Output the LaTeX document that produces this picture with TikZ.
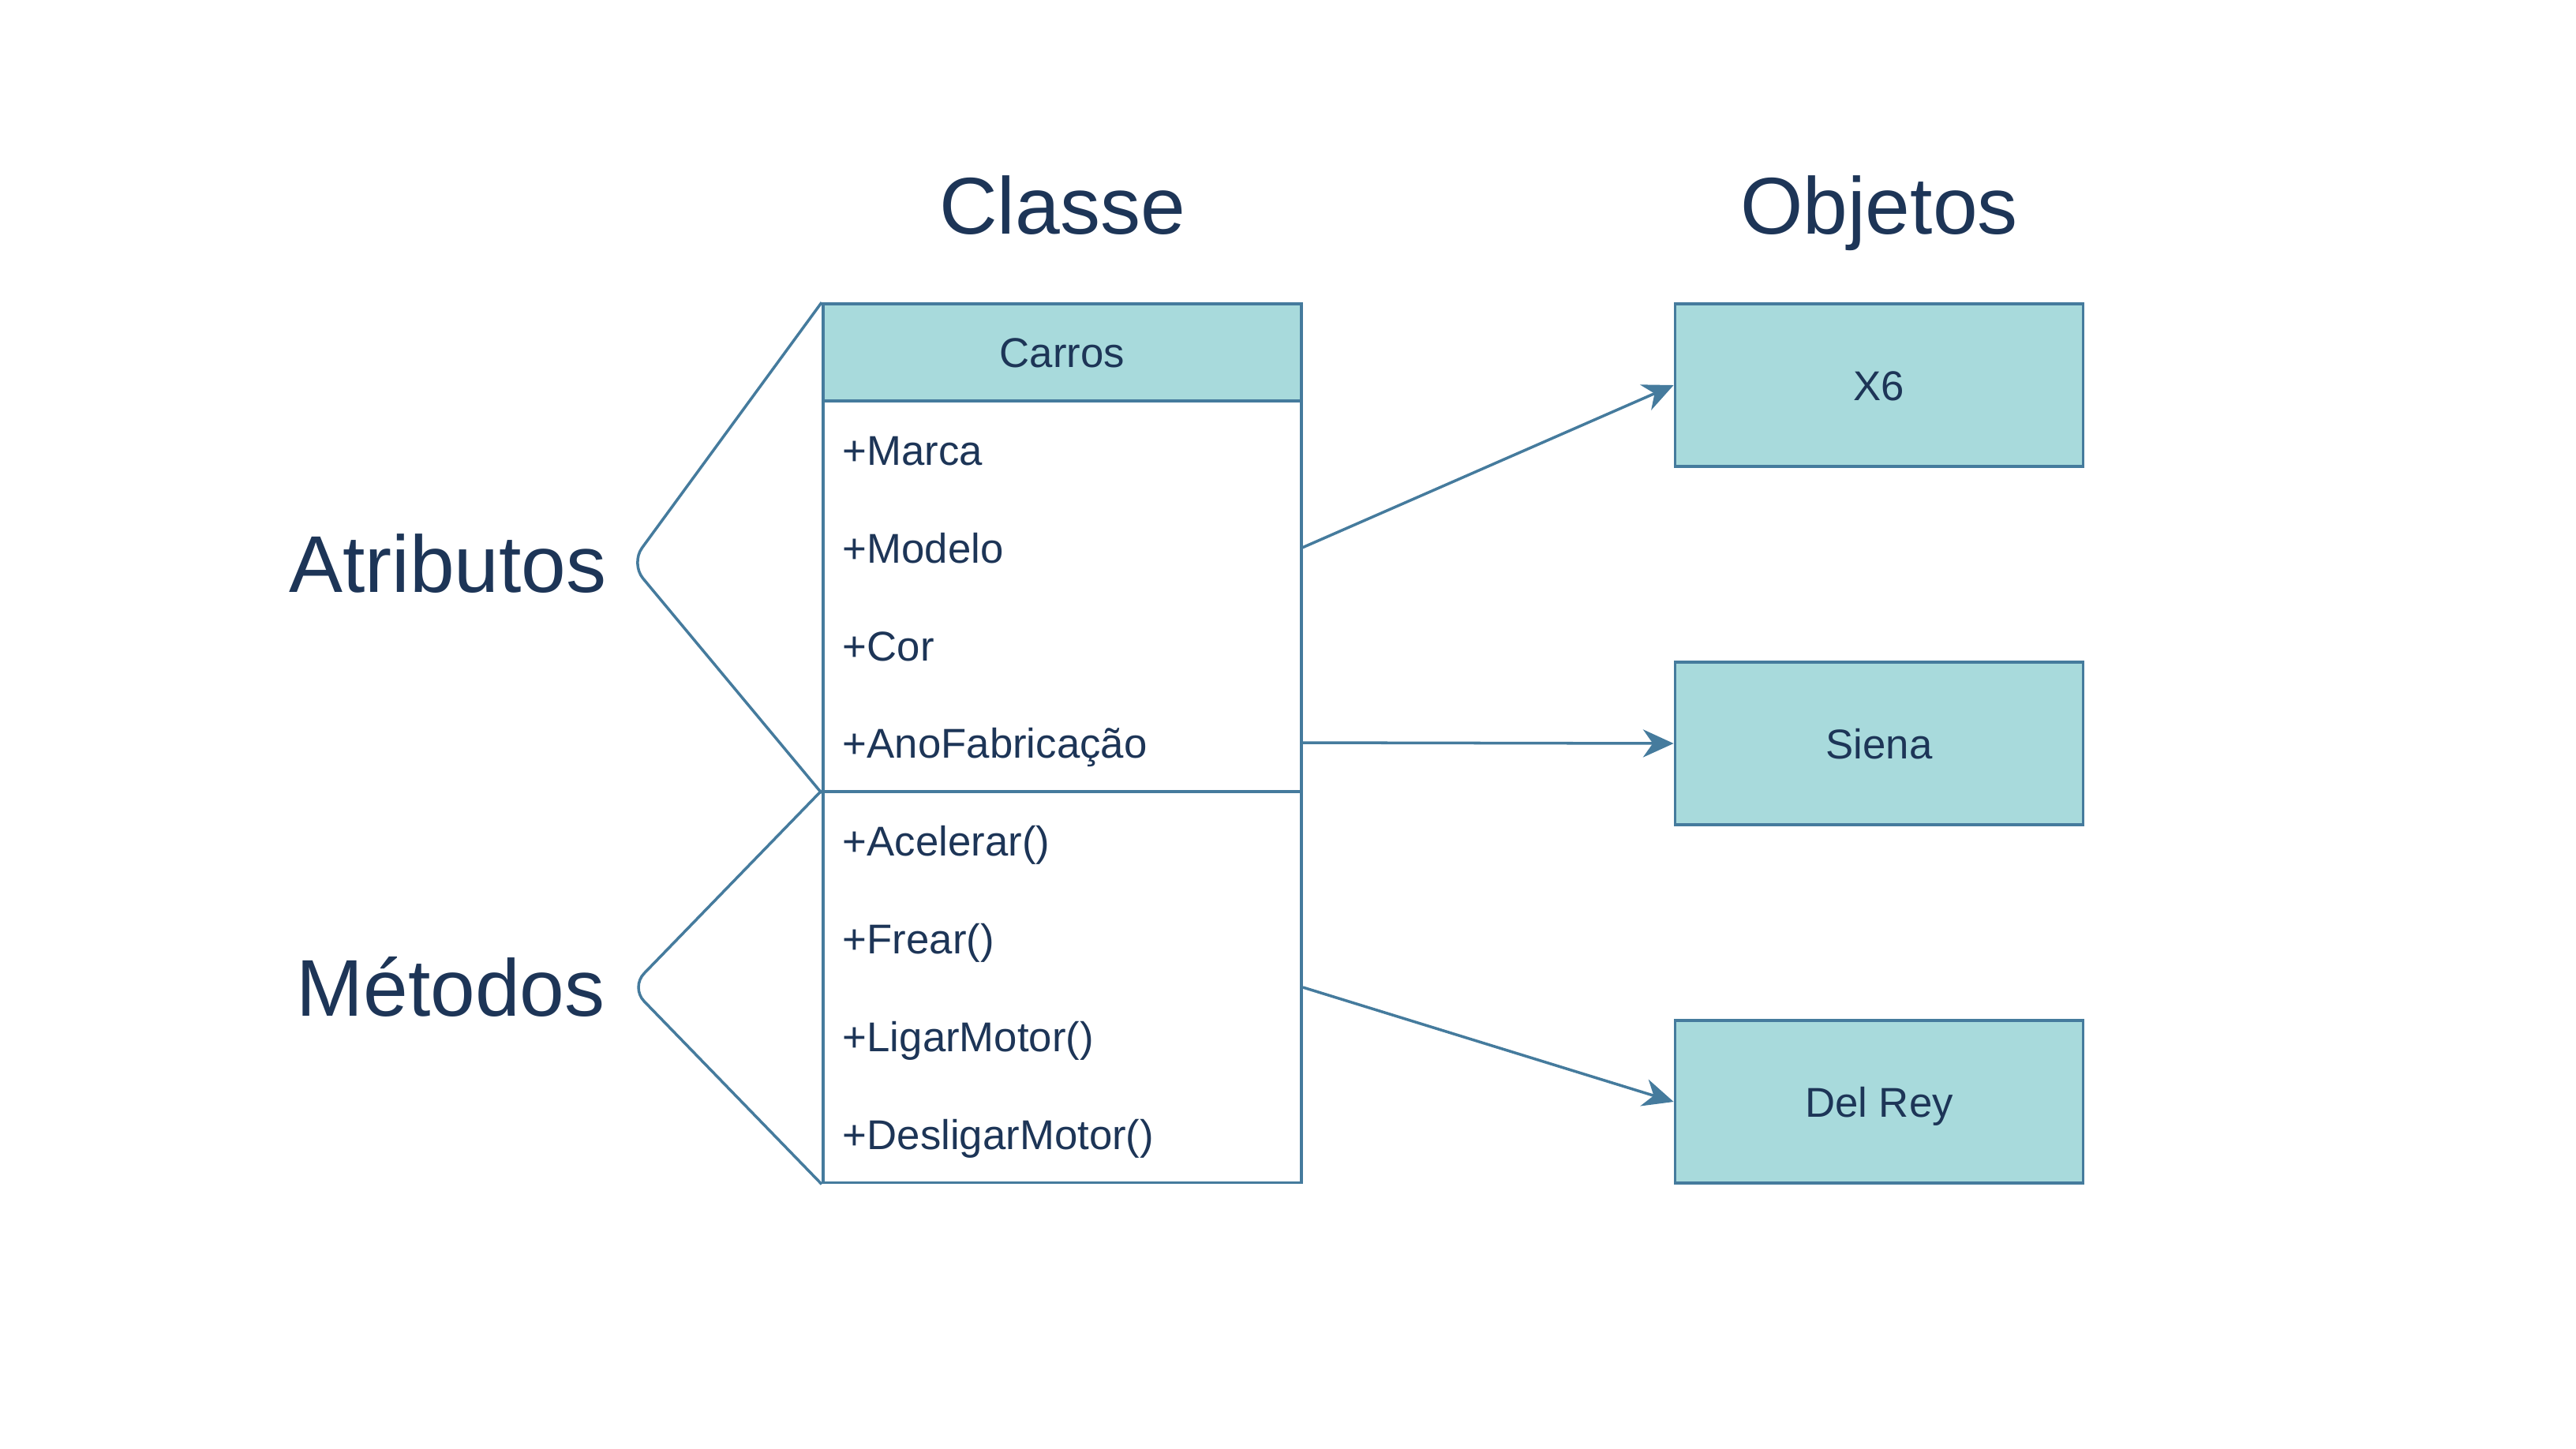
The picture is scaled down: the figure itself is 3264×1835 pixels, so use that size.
\documentclass[tikz,border=0pt]{standalone}
\usepackage{fontspec}
\setmainfont{Liberation Sans}
\usetikzlibrary{positioning,arrows.meta}
\definecolor{carteal}{HTML}{A8DADC}
\definecolor{carblue}{HTML}{457B9D}
\definecolor{carnavy}{HTML}{1D3557}

\tikzset{
  smalltext/.style={text=carnavy, font=\fontsize{15}{18}\selectfont, text height=10.8pt, text depth=0pt},
  bigtext/.style={text=carnavy, font=\fontsize{29}{35}\selectfont, text height=20.9pt, text depth=0pt},
  umlhead/.style={smalltext, draw=carblue, fill=carteal, line width=1pt, minimum width=6.06cm, minimum height=1.23cm},
  umlpart/.style={draw=carblue, line width=1pt, minimum width=6.06cm, minimum height=4.95cm},
  umlrow/.style={smalltext, text width=5.56cm, inner xsep=0.25cm, align=left},
  objbox/.style={smalltext, draw=carblue, fill=carteal, line width=1pt, minimum width=5.17cm, minimum height=2.06cm},
  brace/.style={draw=carblue, line width=1pt, rounded corners=7pt},
  link/.style={draw=carblue, line width=1pt, -{Stealth[length=11pt,width=10pt,inset=3.5pt]}}
}

\begin{document}
\begin{tikzpicture}[x=0.01cm, y=-0.01cm]
    \useasboundingbox (0,0) rectangle (3264,1835);

    % titles
    \node[bigtext] (classe) at (1346,260) {Classe};
    \node[bigtext] (objetos) at (2381,260) {Objetos};

    % class
    \node[umlhead] (carros) at (1346,446.5) {Carros};
    \node[umlpart] (atributos) at (1346,755.5) {};
    \node[umlpart] (metodos) at (1346,1251) {};

    \node[umlrow] (marca) at (1346,570) {+Marca};
    \node[umlrow] (modelo) at (1346,694) {+Modelo};
    \node[umlrow] (cor) at (1346,818) {+Cor};
    \node[umlrow] (ano) at (1346,941) {+AnoFabricação};

    \node[umlrow] (acelerar) at (1346,1065) {+Acelerar()};
    \node[umlrow] (frear) at (1346,1189) {+Frear()};
    \node[umlrow] (ligar) at (1346,1313) {+LigarMotor()};
    \node[umlrow] (desligar) at (1346,1437) {+DesligarMotor()};

    % objects
    \node[objbox] (x6) at (2381,488) {X6};
    \node[objbox] (siena) at (2381,942) {Siena};
    \node[objbox] (delrey) at (2381,1396) {Del Rey};

    \draw[link] (modelo.east) -- (x6.west);
    \draw[link] (ano.east) -- (siena.west);
    \draw[link] (metodos.east) -- (delrey.west);

    % braces
    \coordinate (tipatrib) at (799,714);
    \coordinate (tipmet) at (799,1251);
    \draw[brace] (carros.north west) -- (tipatrib) -- (atributos.south west);
    \draw[brace] (metodos.north west) -- (tipmet) -- (metodos.south west);

    \node[bigtext, left=0.18cm of tipatrib] (atriblabel) {Atributos};
    \node[bigtext, left=0.2cm of tipmet] (metlabel) {Métodos};
\end{tikzpicture}
\end{document}
